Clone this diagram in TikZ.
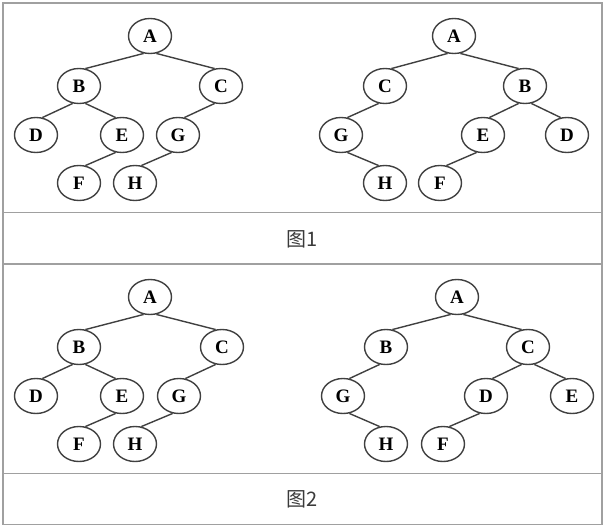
\documentclass[tikz,border=0pt]{standalone}
\usepackage{fontspec}
\setmainfont{Liberation Serif}
\newfontfamily\cjk{Noto Sans CJK SC}
\usetikzlibrary{shapes.geometric}
\definecolor{framegray}{HTML}{A0A0A0}
\definecolor{inkgray}{HTML}{404040}
\definecolor{capgray}{HTML}{3A3A3A}
\tikzset{
  tnode/.style={ellipse,draw=inkgray,line width=1.4pt,minimum width=43pt,minimum height=35pt,inner sep=0pt,
    font=\fontsize{19}{19}\selectfont\bfseries,text=black},
  tedge/.style={draw=inkgray,line width=1.4pt},
  frame/.style={draw=framegray,line width=1.5pt},
  captext/.style={font=\cjk\fontsize{20}{20}\selectfont,text=capgray,inner sep=0pt}
}
\begin{document}
\begin{tikzpicture}[x=1pt,y=-1pt]
\useasboundingbox (0,0) rectangle (605,527);
% table frame
\draw[frame] (3,3) rectangle (602,524.5);
\draw[frame] (3,212.5) -- (602,212.5);
\draw[frame] (3,264) -- (602,264);
\draw[frame] (3,473.5) -- (602,473.5);
\node[captext] (cap1) at (302,239) {图1};
\node[captext] (cap2) at (302,499.5) {图2};
% tree 1
\node[tnode] (a1) at (150,36) {A};
\node[tnode] (b1) at (79,86) {B};
\node[tnode] (c1) at (221,86) {C};
\node[tnode] (d1) at (36,135) {D};
\node[tnode] (e1) at (122,135) {E};
\node[tnode] (g1) at (178,135) {G};
\node[tnode] (f1) at (79,183) {F};
\node[tnode] (h1) at (135,183) {H};
\draw[tedge] (a1.-110) -- (b1.70);
\draw[tedge] (a1.-70) -- (c1.110);
\draw[tedge] (b1.-110) -- (d1.70);
\draw[tedge] (b1.-70) -- (e1.110);
\draw[tedge] (c1.-110) -- (g1.70);
\draw[tedge] (e1.-110) -- (f1.70);
\draw[tedge] (g1.-110) -- (h1.70);
% tree 2
\node[tnode] (a2) at (454,36) {A};
\node[tnode] (c2) at (385,86) {C};
\node[tnode] (b2) at (525,86) {B};
\node[tnode] (g2) at (341,135) {G};
\node[tnode] (e2) at (483,135) {E};
\node[tnode] (d2) at (567,135) {D};
\node[tnode] (h2) at (385,183) {H};
\node[tnode] (f2) at (440,183) {F};
\draw[tedge] (a2.-110) -- (c2.70);
\draw[tedge] (a2.-70) -- (b2.110);
\draw[tedge] (c2.-110) -- (g2.70);
\draw[tedge] (b2.-110) -- (e2.70);
\draw[tedge] (b2.-70) -- (d2.110);
\draw[tedge] (g2.-70) -- (h2.110);
\draw[tedge] (e2.-110) -- (f2.70);
% tree 3
\node[tnode] (a3) at (150,297) {A};
\node[tnode] (b3) at (79,347) {B};
\node[tnode] (c3) at (222,347) {C};
\node[tnode] (d3) at (36,396) {D};
\node[tnode] (e3) at (122,396) {E};
\node[tnode] (g3) at (179,396) {G};
\node[tnode] (f3) at (79,444) {F};
\node[tnode] (h3) at (135,444) {H};
\draw[tedge] (a3.-110) -- (b3.70);
\draw[tedge] (a3.-70) -- (c3.110);
\draw[tedge] (b3.-110) -- (d3.70);
\draw[tedge] (b3.-70) -- (e3.110);
\draw[tedge] (c3.-110) -- (g3.70);
\draw[tedge] (e3.-110) -- (f3.70);
\draw[tedge] (g3.-110) -- (h3.70);
% tree 4
\node[tnode] (a4) at (457,297) {A};
\node[tnode] (b4) at (386,347) {B};
\node[tnode] (c4) at (528,347) {C};
\node[tnode] (g4) at (343,396) {G};
\node[tnode] (d4) at (486,396) {D};
\node[tnode] (e4) at (572,396) {E};
\node[tnode] (h4) at (386,444) {H};
\node[tnode] (f4) at (443,444) {F};
\draw[tedge] (a4.-110) -- (b4.70);
\draw[tedge] (a4.-70) -- (c4.110);
\draw[tedge] (b4.-110) -- (g4.70);
\draw[tedge] (c4.-110) -- (d4.70);
\draw[tedge] (c4.-70) -- (e4.110);
\draw[tedge] (g4.-70) -- (h4.110);
\draw[tedge] (d4.-110) -- (f4.70);
\end{tikzpicture}
\end{document}
